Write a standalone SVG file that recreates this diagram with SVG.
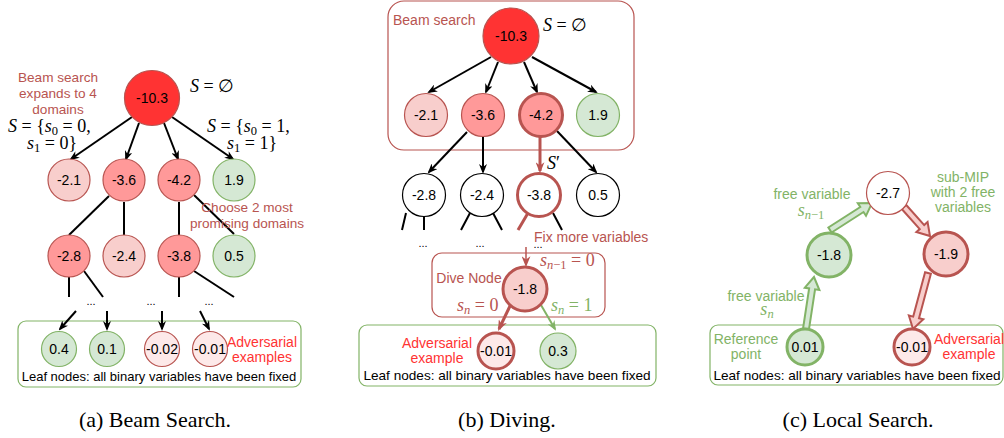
<svg xmlns="http://www.w3.org/2000/svg" width="1004" height="438" viewBox="0 0 1004 438">
<defs>
<marker id="ab" viewBox="0 0 10 8" refX="8" refY="4" markerWidth="10" markerHeight="8" markerUnits="userSpaceOnUse" orient="auto"><path d="M0,0 L10,4 L0,8 L3,4 Z" fill="#000"/></marker>
<marker id="ar" viewBox="0 0 10 8" refX="8" refY="4" markerWidth="11" markerHeight="9" markerUnits="userSpaceOnUse" orient="auto"><path d="M0,0 L10,4 L0,8 L3,4 Z" fill="#b85450"/></marker>
<marker id="ag" viewBox="0 0 10 8" refX="8" refY="4" markerWidth="10" markerHeight="8" markerUnits="userSpaceOnUse" orient="auto"><path d="M0,0 L10,4 L0,8 L3,4 Z" fill="#82b366"/></marker>
<style>
text{font-family:"Liberation Sans",Arial,sans-serif;font-size:14px;fill:#000}
.m{font-family:"Liberation Serif","DejaVu Serif",serif;font-size:18px}
.i{font-style:italic}
.c{text-anchor:middle}
.rt{fill:#b85450}
.adv{fill:#ff3333}
.gt{fill:#82b366}
.cap{font-family:"Liberation Serif","Times New Roman",serif;font-size:22px;text-anchor:middle}
.leaf{font-size:13.6px;text-anchor:middle}
.dots{font-size:11px;text-anchor:middle}
circle{stroke-width:1.2}
.root{fill:#ff3333;stroke:#b85450}
.r2{fill:#ff9999;stroke:#b85450}
.r1{fill:#f8cecc;stroke:#b85450}
.r0{fill:#fde9e9;stroke:#b85450}
.g{fill:#d5e8d4;stroke:#82b366}
.w{fill:#fff;stroke:#000}
.thk{stroke-width:3}
.ln{fill:none;stroke:#000;stroke-width:2}
.lr{fill:none;stroke:#b85450;stroke-width:3}
.lg{fill:none;stroke:#82b366;stroke-width:2}
.fg{fill:#d5e8d4;stroke:#82b366;stroke-width:2;stroke-linejoin:miter}
.fr{fill:#f8cecc;stroke:#b85450;stroke-width:2;stroke-linejoin:miter}
</style>
</defs>

<!-- ===== Panel (a) ===== -->
<g id="a-boxes">
<rect x="18" y="321" width="283" height="66" rx="8" fill="none" stroke="#82b366" stroke-width="1.2"/>
</g>
<g id="a-connectors">
<path class="ln" d="M132,117 L71,159" marker-end="url(#ab)"/>
<path class="ln" d="M139,123 L126,159" marker-end="url(#ab)"/>
<path class="ln" d="M164,123 L178,159" marker-end="url(#ab)"/>
<path class="ln" d="M172,117 L233,159" marker-end="url(#ab)"/>
<path class="ln" d="M109,196 L69,235"/>
<path class="ln" d="M124,202 L124,235"/>
<path class="ln" d="M179,202 L179,235"/>
<path class="ln" d="M194,195 L234,234"/>
<path class="ln" d="M69,277 L69,297"/>
<path class="ln" d="M84,271 L103,297"/>
<path class="ln" d="M179,277 L179,297"/>
<path class="ln" d="M194,271 L234,297"/>
<path class="ln" d="M76,311 L60,329" marker-end="url(#ab)"/>
<path class="ln" d="M107,311 L107,329" marker-end="url(#ab)"/>
<path class="ln" d="M162,311 L162,329" marker-end="url(#ab)"/>
<path class="ln" d="M200,311 L209,329" marker-end="url(#ab)"/>
</g>
<g id="a-root"><circle class="root" cx="152" cy="98" r="27.5"/><text class="c" x="152" y="103">-10.3</text></g>
<g id="a-n21"><circle class="r1" cx="69" cy="180" r="21"/><text class="c" x="69" y="185">-2.1</text></g>
<g id="a-n36"><circle class="r2" cx="124" cy="180" r="21"/><text class="c" x="124" y="185">-3.6</text></g>
<g id="a-n42"><circle class="r2" cx="179" cy="180" r="21"/><text class="c" x="179" y="185">-4.2</text></g>
<g id="a-n19"><circle class="g" cx="234" cy="180" r="21"/><text class="c" x="234" y="185">1.9</text></g>
<g id="a-n28"><circle class="r2" cx="69" cy="256" r="21" stroke="#000"/><text class="c" x="69" y="261">-2.8</text></g>
<g id="a-n24"><circle class="r1" cx="124" cy="256" r="21"/><text class="c" x="124" y="261">-2.4</text></g>
<g id="a-n38"><circle class="r2" cx="179" cy="256" r="21"/><text class="c" x="179" y="261">-3.8</text></g>
<g id="a-n05"><circle class="g" cx="234" cy="256" r="21"/><text class="c" x="234" y="261">0.5</text></g>
<g id="a-l04"><circle class="g" cx="59" cy="349" r="17.5"/><text class="c" x="59" y="354">0.4</text></g>
<g id="a-l01"><circle class="g" cx="107" cy="349" r="17.5"/><text class="c" x="107" y="354">0.1</text></g>
<g id="a-l002"><circle class="r0" cx="162" cy="349" r="17.5"/><text class="c" x="162" y="354">-0.02</text></g>
<g id="a-l001"><circle class="r0" cx="210" cy="349" r="17.5"/><text class="c" x="210" y="354">-0.01</text></g>
<g id="a-labels">
<text class="c rt" x="58" y="82" style="font-size:13.6px">Beam search</text>
<text class="c rt" x="58" y="98" style="font-size:13.6px">expands to 4</text>
<text class="c rt" x="58" y="114" style="font-size:13.6px">domains</text>
<text class="m" x="190" y="92"><tspan class="i">S</tspan> = ∅</text>
<text class="m" x="8" y="132"><tspan class="i">S</tspan> = {<tspan class="i">s</tspan><tspan font-size="12.5" dy="3">0</tspan><tspan dy="-3"> = 0,</tspan></text>
<text class="m" x="27" y="149"><tspan class="i">s</tspan><tspan font-size="12.5" dy="3">1</tspan><tspan dy="-3"> = 0}</tspan></text>
<text class="m" x="207" y="132"><tspan class="i">S</tspan> = {<tspan class="i">s</tspan><tspan font-size="12.5" dy="3">0</tspan><tspan dy="-3"> = 1,</tspan></text>
<text class="m" x="227" y="149"><tspan class="i">s</tspan><tspan font-size="12.5" dy="3">1</tspan><tspan dy="-3"> = 1}</tspan></text>
<text class="c rt" x="247" y="212" style="font-size:13.6px">Choose 2 most</text>
<text class="c rt" x="247" y="228" style="font-size:13.6px">promising domains</text>
<text class="dots" x="91" y="305">...</text>
<text class="dots" x="151" y="305">...</text>
<text class="dots" x="209" y="305">...</text>
<text class="c adv" x="262" y="347">Adversarial</text>
<text class="c adv" x="262" y="362">examples</text>
<text class="leaf" x="159" y="381" style="font-size:13px">Leaf nodes: all binary variables have been fixed</text>
<text class="cap" x="155" y="427">(a) Beam Search.</text>
</g>

<!-- ===== Panel (b) ===== -->
<g id="b-boxes">
<rect x="388" y="1" width="246" height="149" rx="16" fill="none" stroke="#b85450" stroke-width="1.2"/>
<rect x="432" y="253" width="173" height="64" rx="10" fill="none" stroke="#b85450" stroke-width="1.2"/>
<rect x="359" y="325" width="297" height="61" rx="8" fill="none" stroke="#82b366" stroke-width="1.2"/>
</g>
<g id="b-connectors">
<path class="ln" d="M491,57 L429,92" marker-end="url(#ab)"/>
<path class="ln" d="M498,62 L486,92" marker-end="url(#ab)"/>
<path class="ln" d="M524,62 L537,92" marker-end="url(#ab)"/>
<path class="ln" d="M532,57 L596,92" marker-end="url(#ab)"/>
<path class="ln" d="M467,132 L429,172" marker-end="url(#ab)"/>
<path class="ln" d="M483,137 L483,172" marker-end="url(#ab)"/>
<path class="lr" d="M540,137 L540,171" marker-end="url(#ar)"/>
<path class="ln" d="M557,131 L596,172" marker-end="url(#ab)"/>
<path class="ln" d="M406,213 L402,230"/>
<path class="ln" d="M424,216 L424,230"/>
<path class="ln" d="M470,213 L461,230"/>
<path class="ln" d="M493,213 L502,230"/>
<path class="lr" d="M528,213 L518,230"/>
<path class="ln" d="M553,213 L562,230"/>
<path fill="none" stroke="#b85450" stroke-width="1.5" d="M526,247 L526,265" marker-end="url(#ar)"/>
<path class="lr" d="M510,306 L499,329" marker-end="url(#ar)"/>
<path class="lg" d="M541,305 L555,329" marker-end="url(#ag)"/>
</g>
<g id="b-root"><circle class="root" cx="511" cy="36" r="28"/><text class="c" x="511" y="41">-10.3</text></g>
<g id="b-n21"><circle class="r1" cx="426" cy="115" r="21.5"/><text class="c" x="426" y="120">-2.1</text></g>
<g id="b-n36"><circle class="r2" cx="483" cy="115" r="21.5"/><text class="c" x="483" y="120">-3.6</text></g>
<g id="b-n42"><circle class="r2 thk" cx="541" cy="115" r="21.5"/><text class="c" x="541" y="120">-4.2</text></g>
<g id="b-n19"><circle class="g" cx="598" cy="115" r="21.5"/><text class="c" x="598" y="120">1.9</text></g>
<g id="b-n28"><circle class="w" cx="424" cy="195" r="21.5"/><text class="c" x="424" y="200">-2.8</text></g>
<g id="b-n24"><circle class="w" cx="482" cy="195" r="21.5"/><text class="c" x="482" y="200">-2.4</text></g>
<g id="b-n38"><circle class="thk" fill="#fff" stroke="#b85450" cx="539" cy="195" r="21.5"/><text class="c" x="539" y="200">-3.8</text></g>
<g id="b-n05"><circle class="w" cx="598" cy="195" r="21.5"/><text class="c" x="598" y="200">0.5</text></g>
<g id="b-dive"><circle class="r1 thk" cx="525" cy="289" r="22"/><text class="c" x="525" y="294">-1.8</text></g>
<g id="b-l001"><circle class="r0 thk" cx="496" cy="351" r="18"/><text class="c" x="496" y="356">-0.01</text></g>
<g id="b-l03"><circle class="g" cx="558" cy="351" r="18"/><text class="c" x="558" y="356">0.3</text></g>
<g id="b-labels">
<text class="rt" x="393" y="25">Beam search</text>
<text class="m" x="543" y="31"><tspan class="i">S</tspan> = ∅</text>
<text class="m" x="547" y="169"><tspan class="i">S</tspan>′</text>
<text class="dots" x="423" y="247">...</text>
<text class="dots" x="480" y="247">...</text>
<text class="dots" x="538" y="248">...</text>
<text class="rt" x="534" y="242">Fix more variables</text>
<text class="m rt" x="540" y="266"><tspan class="i">s</tspan><tspan font-size="12.5" dy="3"><tspan class="i">n</tspan>−1</tspan><tspan dy="-3"> = 0</tspan></text>
<text class="c rt" x="469" y="283">Dive Node</text>
<text class="m rt" x="457" y="311"><tspan class="i">s</tspan><tspan class="i" font-size="12.5" dy="3">n</tspan><tspan dy="-3"> = 0</tspan></text>
<text class="m gt" x="551" y="311"><tspan class="i">s</tspan><tspan class="i" font-size="12.5" dy="3">n</tspan><tspan dy="-3"> = 1</tspan></text>
<text class="c adv" x="437" y="348">Adversarial</text>
<text class="c adv" x="437" y="363">example</text>
<text class="leaf" x="507" y="380">Leaf nodes: all binary variables have been fixed</text>
<text class="cap" x="507" y="427">(b) Diving.</text>
</g>

<!-- ===== Panel (c) ===== -->
<g id="c-boxes">
<rect x="710" y="325" width="293" height="60" rx="8" fill="none" stroke="#82b366" stroke-width="1.2"/>
</g>
<g id="c-connectors">
<polygon class="fg" points="808.96,329.47 815.06,289.33 819.4,290.0 814,277 804.8,287.7 809.14,288.39 803.04,328.53"/>
<polygon class="fg" points="831.62,232.52 863.52,212.01 866.0,215.8 872,203 857.8,203.2 860.28,206.97 828.38,227.48"/>
<polygon class="fr" points="901.76,209.0 919.74,229.06 916.39,232.07 930,236 927.57,222.05 924.22,225.06 906.24,205.0"/>
<polygon class="fr" points="925.1,272.22 913.2,316.63 908.86,315.47 913,329 923.34,319.35 919.0,318.19 930.9,273.78"/>
</g>
<g id="c-n27"><circle fill="#fff" stroke="#b85450" stroke-width="2" cx="888" cy="193" r="21.5"/><text class="c" x="888" y="198">-2.7</text></g>
<g id="c-n18"><circle class="g thk" cx="829" cy="255" r="22"/><text class="c" x="829" y="260">-1.8</text></g>
<g id="c-n19"><circle class="r1 thk" cx="946" cy="254" r="22"/><text class="c" x="946" y="259">-1.9</text></g>
<g id="c-ref"><circle class="g thk" cx="805" cy="347" r="18"/><text class="c" x="805" y="352">0.01</text></g>
<g id="c-adv"><circle class="r0 thk" cx="912" cy="347" r="18"/><text class="c" x="912" y="352">-0.01</text></g>
<g id="c-labels">
<text class="c gt" x="812" y="199">free variable</text>
<text class="m gt c" x="811" y="216"><tspan class="i">s</tspan><tspan font-size="12.5" dy="3"><tspan class="i">n</tspan>−1</tspan></text>
<text class="c gt" x="963" y="182">sub-MIP</text>
<text class="c gt" x="963" y="197">with 2 free</text>
<text class="c gt" x="963" y="212">variables</text>
<text class="c gt" x="766" y="301">free variable</text>
<text class="m gt c" x="767" y="315"><tspan class="i">s</tspan><tspan class="i" font-size="12.5" dy="3">n</tspan></text>
<text class="c gt" x="746" y="344">Reference</text>
<text class="c gt" x="746" y="359">point</text>
<text class="c adv" x="969" y="344">Adversarial</text>
<text class="c adv" x="969" y="359">example</text>
<text class="leaf" x="857" y="380">Leaf nodes: all binary variables have been fixed</text>
<text class="cap" x="858" y="427">(c) Local Search.</text>
</g>
</svg>
